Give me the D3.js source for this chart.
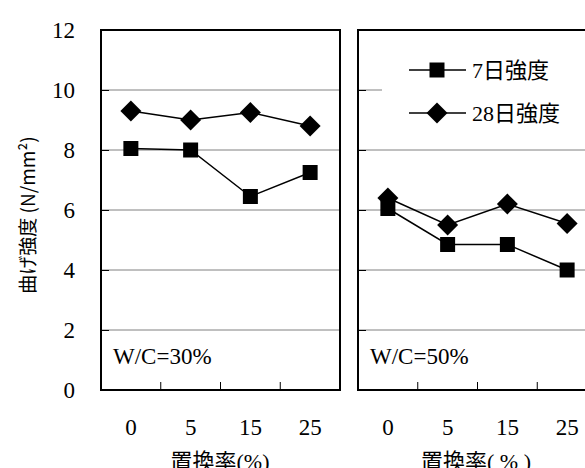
<!DOCTYPE html>
<html>
<head>
<meta charset="utf-8">
<script src="https://cdn.jsdelivr.net/npm/d3@7"></script>
<style>
  body { margin: 0; background: #fff; }
</style>
</head>
<body>
<svg id="chart" width="585" height="468"></svg>
<script>
const categories = ["0", "5", "15", "25"];
const panelLabels = ["W/C=30%", "W/C=50%"];
const seriesNames = ["7日強度", "28日強度"];
const day7_wc30 = [8.05, 8.0, 6.45, 7.25];
const day28_wc30 = [9.3, 9.0, 9.25, 8.8];
const day7_wc50 = [6.05, 4.85, 4.85, 4.0];
const day28_wc50 = [6.4, 5.5, 6.2, 5.55];
const yTicks = [0, 2, 4, 6, 8, 10, 12];
const gridValues = [2, 4, 6, 8, 10];

const serif = "'Times New Roman', 'Liberation Serif', 'DejaVu Serif', 'Noto Sans CJK JP', serif";
const gothic = "'Noto Sans CJK JP', 'Liberation Serif', sans-serif";

const svg = d3.select("#chart");

const y = d3.scaleLinear().domain([0, 12]).range([390, 30]);

const panels = [
  { label: panelLabels[0], range: [101, 340], s7: day7_wc30, s28: day28_wc30, xTitle: "置換率(%)" },
  { label: panelLabels[1], range: [358, 597], s7: day7_wc50, s28: day28_wc50, xTitle: "置換率( % )" }
];

const square = d3.symbol().type(d3.symbolSquare).size(225);
const diamond = d3.symbol().type(d3.symbolSquare).size(220);

panels.forEach((p, pi) => {
  const x = d3.scaleBand().domain(categories).range(p.range).padding(0);
  const cx = d => x(d) + x.bandwidth() / 2;
  const g = svg.append("g");

  // gridlines
  g.selectAll(".grid")
    .data(gridValues)
    .join("line")
    .attr("x1", p.range[0]).attr("x2", p.range[1])
    .attr("y1", d => y(d)).attr("y2", d => y(d))
    .attr("stroke", "#808080")
    .attr("stroke-width", 1);

  // legend background (covers gridline) in right panel
  if (pi === 1) {
    g.append("rect")
      .attr("x", 382).attr("y", 45)
      .attr("width", 215).attr("height", 90)
      .attr("fill", "#fff");
  }

  // y axis ticks (inward)
  const ya = g.append("g")
    .attr("transform", `translate(${p.range[0]},0)`)
    .call(d3.axisLeft(y).tickValues(yTicks).tickSize(-8).tickPadding(26));
  ya.select(".domain").remove();
  ya.selectAll("line").attr("stroke", "#000");
  if (pi === 0) {
    ya.selectAll("text")
      .style("font-family", serif)
      .style("font-size", "23px")
      .attr("fill", "#000");
  } else {
    ya.selectAll("text").remove();
  }

  // x axis labels
  const xa = g.append("g")
    .attr("transform", `translate(0,${y(0)})`)
    .call(d3.axisBottom(x).tickSize(0).tickPadding(29));
  xa.select(".domain").remove();
  xa.selectAll("text")
    .style("font-family", serif)
    .style("font-size", "23px")
    .attr("fill", "#000");

  // x boundary ticks (inward)
  g.selectAll(".xtick")
    .data(categories.slice(1))
    .join("line")
    .attr("x1", d => x(d)).attr("x2", d => x(d))
    .attr("y1", y(0)).attr("y2", y(0) - 8)
    .attr("stroke", "#000").attr("stroke-width", 1);

  // frame
  g.append("rect")
    .attr("x", p.range[0]).attr("y", y(12))
    .attr("width", p.range[1] - p.range[0])
    .attr("height", y(0) - y(12))
    .attr("fill", "none")
    .attr("stroke", "#000")
    .attr("stroke-width", 2);

  // lines
  const line = d3.line().x((d, i) => cx(categories[i])).y(d => y(d));
  [p.s7, p.s28].forEach(s => {
    g.append("path")
      .attr("d", line(s))
      .attr("fill", "none")
      .attr("stroke", "#000")
      .attr("stroke-width", 1.5);
  });

  // markers
  g.selectAll(".m28")
    .data(p.s28)
    .join("path")
    .attr("d", diamond)
    .attr("transform", (d, i) => `translate(${cx(categories[i])},${y(d)}) rotate(45)`)
    .attr("fill", "#000");
  g.selectAll(".m7")
    .data(p.s7)
    .join("path")
    .attr("d", square)
    .attr("transform", (d, i) => `translate(${cx(categories[i])},${y(d)})`)
    .attr("fill", "#000");

  // panel label
  g.append("text")
    .attr("x", p.range[0] + 12)
    .attr("y", 364)
    .style("font-family", serif)
    .style("font-size", "23px")
    .text(p.label);

  // x title
  g.append("text")
    .attr("x", pi === 0 ? 220 : 476)
    .attr("y", 469)
    .attr("text-anchor", "middle")
    .style("font-family", serif)
    .style("font-size", "22px")
    .text(p.xTitle);
});

// legend
const legend = svg.append("g").attr("transform", "translate(409,70)");
seriesNames.forEach((name, i) => {
  const row = legend.append("g").attr("transform", `translate(0,${i * 43})`);
  row.append("line")
    .attr("x1", 0).attr("x2", 57)
    .attr("stroke", "#000").attr("stroke-width", 1.5);
  row.append("path")
    .attr("d", i === 0 ? square : diamond)
    .attr("transform", i === 0 ? "translate(28,0)" : "translate(28,0) rotate(45)")
    .attr("fill", "#000");
  row.append("text")
    .attr("x", 63).attr("y", 8)
    .style("font-family", serif)
    .style("font-size", "22px")
    .text(name);
});

// y title
svg.append("text")
  .attr("transform", "translate(35,215) rotate(-90)")
  .attr("text-anchor", "middle")
  .style("font-family", gothic)
  .style("font-size", "19px")
  .text("曲げ強度 (N/mm²)");
</script>
</body>
</html>
